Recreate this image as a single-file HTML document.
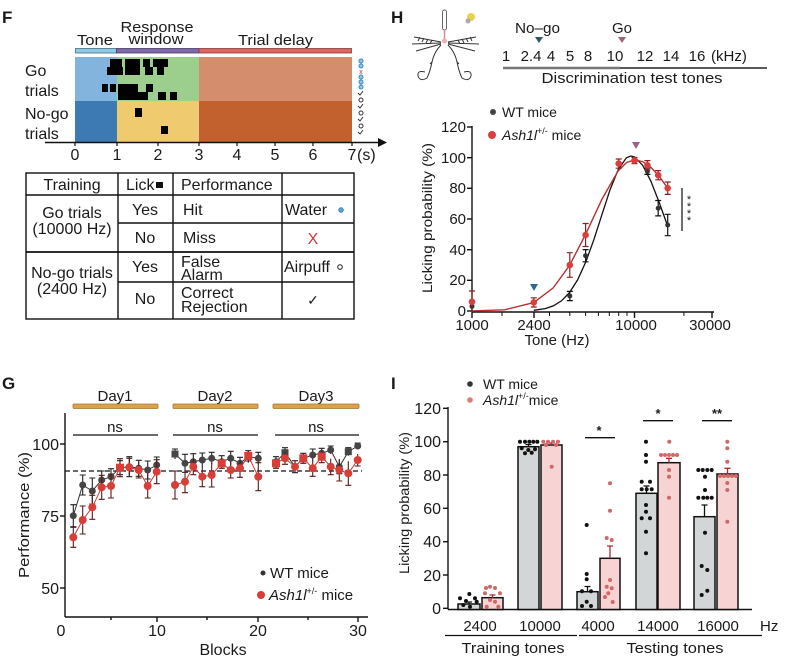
<!DOCTYPE html>
<html><head><meta charset="utf-8"><style>
html,body{margin:0;padding:0;background:#fff;}
svg{display:block;}
text{font-family:"Liberation Sans",Arial,sans-serif;fill:#1a1a1a;}
</style></head><body>
<svg width="792" height="671" viewBox="0 0 792 671" xmlns="http://www.w3.org/2000/svg">
<rect width="792" height="671" fill="#fff"/>

<!-- ===================== PANEL F ===================== -->
<text x="2" y="23" font-size="17" font-weight="bold">F</text>
<text x="77" y="45" font-size="15" textLength="36" lengthAdjust="spacingAndGlyphs">Tone</text>
<text x="157" y="32" font-size="15" text-anchor="middle" textLength="73" lengthAdjust="spacingAndGlyphs">Response</text>
<text x="156" y="44" font-size="15" text-anchor="middle" textLength="55" lengthAdjust="spacingAndGlyphs">window</text>
<text x="238" y="45" font-size="15" textLength="75" lengthAdjust="spacingAndGlyphs">Trial delay</text>
<rect x="75.5" y="48.5" width="41" height="4.5" fill="#8ccbe8" stroke="#4a6a80" stroke-width="0.8"/>
<rect x="116.5" y="48.5" width="82.5" height="4.5" fill="#7d6aa8" stroke="#4a3a6a" stroke-width="0.8"/>
<rect x="199" y="48.5" width="152.5" height="4.5" fill="#dc6660" stroke="#8a3a3a" stroke-width="0.8"/>

<rect x="75" y="57" width="42" height="44" fill="#82b4de"/>
<rect x="117" y="57" width="82" height="44" fill="#9ccf8e"/>
<rect x="199" y="57" width="153" height="44" fill="#d48e6d"/>
<rect x="75" y="101" width="42" height="41" fill="#3d7ab3"/>
<rect x="117" y="101" width="82" height="41" fill="#f0ca6e"/>
<rect x="199" y="101" width="153" height="41" fill="#c2612d"/>
<!-- licks -->
<g fill="#000">
<rect x="110" y="59" width="12" height="8"/><rect x="125" y="59" width="15" height="8"/><rect x="143" y="59" width="7" height="8"/><rect x="153" y="59" width="15" height="8"/>
<rect x="107" y="67" width="16" height="8"/><rect x="125" y="67" width="15" height="8"/><rect x="145" y="67" width="8" height="8"/><rect x="157" y="67" width="7" height="8"/>
<rect x="102" y="84" width="6" height="8"/><rect x="110" y="84" width="6" height="8"/><rect x="118" y="84" width="20" height="8"/><rect x="146" y="84" width="7" height="8"/>
<rect x="118" y="92" width="30" height="8"/><rect x="158" y="92" width="8" height="8"/><rect x="170" y="92" width="7" height="8"/>
<rect x="135" y="108" width="7" height="9"/><rect x="161" y="126" width="7" height="8"/>
</g>
<!-- right icons -->
<g stroke-width="1">
<circle cx="361" cy="61" r="2" fill="#8cc8ea" stroke="#3a8cc0"/>
<circle cx="361" cy="66" r="2" fill="#8cc8ea" stroke="#3a8cc0"/>
<text x="361" y="74" font-size="7" fill="#c03030" text-anchor="middle" style="fill:#c03030">x</text>
<circle cx="361" cy="77" r="2" fill="#8cc8ea" stroke="#3a8cc0"/>
<circle cx="361" cy="82" r="2" fill="#8cc8ea" stroke="#3a8cc0"/>
<circle cx="361" cy="87" r="2" fill="#8cc8ea" stroke="#3a8cc0"/>
<path d="M358 93 l2 2 l3 -4" fill="none" stroke="#333"/>
<circle cx="361" cy="100" r="2" fill="none" stroke="#333"/>
<path d="M358 106 l2 2 l3 -4" fill="none" stroke="#333"/>
<circle cx="361" cy="113" r="2" fill="none" stroke="#333"/>
<path d="M358 119 l2 2 l3 -4" fill="none" stroke="#333"/>
<circle cx="361" cy="126" r="2" fill="none" stroke="#333"/>
<path d="M358 132 l2 2 l3 -4" fill="none" stroke="#333"/>
</g>
<text x="25" y="76" font-size="16">Go</text>
<text x="25" y="96" font-size="16">trials</text>
<text x="25" y="119" font-size="16">No-go</text>
<text x="25" y="139" font-size="16">trials</text>
<line x1="45" y1="142.5" x2="380" y2="142.5" stroke="#111" stroke-width="1.5"/>
<polygon points="378,138 387,142.5 378,147" fill="#111"/>
<g stroke="#111" stroke-width="1.2">
<line x1="75" y1="142" x2="75" y2="146"/><line x1="117" y1="142" x2="117" y2="146"/><line x1="158" y1="142" x2="158" y2="146"/><line x1="199" y1="142" x2="199" y2="146"/><line x1="237" y1="142" x2="237" y2="146"/><line x1="275" y1="142" x2="275" y2="146"/><line x1="313" y1="142" x2="313" y2="146"/><line x1="352" y1="142" x2="352" y2="146"/>
</g>
<g font-size="16" text-anchor="middle">
<text x="75" y="160">0</text><text x="117" y="160">1</text><text x="158" y="160">2</text><text x="199" y="160">3</text><text x="237" y="160">4</text><text x="275" y="160">5</text><text x="313" y="160">6</text><text x="352" y="160">7</text>
</g>
<text x="357" y="160" font-size="16">(s)</text>

<!-- table -->
<g stroke="#111" stroke-width="1.4" fill="none">
<rect x="26" y="173" width="328" height="146"/>
<line x1="118" y1="173" x2="118" y2="319"/>
<line x1="173" y1="173" x2="173" y2="319"/>
<line x1="282" y1="173" x2="282" y2="319"/>
<line x1="26" y1="195" x2="354" y2="195"/>
<line x1="118" y1="223" x2="354" y2="223"/>
<line x1="26" y1="252" x2="354" y2="252" stroke-width="1.8"/>
<line x1="118" y1="282" x2="354" y2="282"/>
</g>
<g font-size="16">
<text x="72" y="190" text-anchor="middle">Training</text>
<text x="126" y="190">Lick</text>
<rect x="156" y="182" width="7" height="6" fill="#111"/>
<text x="181" y="190">Performance</text>
<text x="72" y="218" text-anchor="middle">Go trials</text>
<text x="72" y="234" text-anchor="middle">(10000 Hz)</text>
<text x="145" y="215" text-anchor="middle">Yes</text>
<text x="145" y="243" text-anchor="middle">No</text>
<text x="183" y="215">Hit</text>
<text x="183" y="243">Miss</text>
<text x="285" y="215">Water</text>
<circle cx="341" cy="210" r="2.3" fill="#5aa8d8" stroke="#2a78a8" stroke-width="0.8"/>
<text x="313" y="244" text-anchor="middle" style="fill:#c83a3a">X</text>
<text x="72" y="278" text-anchor="middle">No-go trials</text>
<text x="72" y="294" text-anchor="middle">(2400 Hz)</text>
<text x="145" y="272" text-anchor="middle">Yes</text>
<text x="145" y="304" text-anchor="middle">No</text>
<text x="181" y="267">False</text>
<text x="181" y="280">Alarm</text>
<text x="181" y="298">Correct</text>
<text x="181" y="312">Rejection</text>
<text x="284" y="272">Airpuff</text>
<circle cx="340" cy="267" r="2.3" fill="none" stroke="#222" stroke-width="1"/>
<text x="313" y="305" text-anchor="middle" font-size="14">✓</text>
</g>

<!-- ===================== PANEL H ===================== -->
<text x="391" y="23" font-size="17" font-weight="bold">H</text>
<!-- mouse sketch -->
<g fill="none" stroke="#333" stroke-width="1">
<rect x="442.5" y="10" width="4" height="20" rx="2" fill="#fff" stroke="#666"/>
<path d="M444.5 30 L444.5 40" stroke="#c89090" stroke-width="1.5"/>
<path d="M441 42 L414 37 M441 43 L412 44 M441 44 L416 51 M420 37 l-2 4 M424 38 l-2 4 M428 39 l-2 4 M432 40 l-2 4"/>
<path d="M448 42 L476 37 M448 43 L479 44 M448 44 L475 51 M470 37 l2 4 M466 38 l2 4 M462 39 l2 4 M458 40 l2 4"/>
<path d="M441 45 Q434 52 432 62 Q430 72 427 78 Q420 82 418 76 Q417 70 425 72"/>
<path d="M448 45 Q455 52 457 62 Q459 72 462 78 Q469 82 471 76 Q472 70 464 72"/>
<path d="M432 62 l-2 2 M457 62 l2 2"/>
</g>
<circle cx="444.5" cy="41" r="2.5" fill="#e8b0b0"/>
<circle cx="471" cy="17" r="4" fill="#e8d24a"/>
<circle cx="468" cy="21" r="2.5" fill="#aaa"/>

<text x="515" y="33" font-size="15" textLength="45" lengthAdjust="spacingAndGlyphs">No–go</text>
<text x="612" y="33" font-size="15">Go</text>
<polygon points="535,37 543,37 539,43" fill="#2f5866"/>
<polygon points="618,37 626,37 622,43" fill="#a0607a"/>
<g font-size="15" text-anchor="middle">
<text x="506" y="61">1</text><text x="531" y="61">2.4</text><text x="551" y="61">4</text><text x="570" y="61">5</text><text x="588" y="61">8</text><text x="615" y="61">10</text><text x="645" y="61">12</text><text x="671" y="61">14</text><text x="697" y="61">16</text>
</g>
<text x="711" y="61" font-size="15">(kHz)</text>
<line x1="503" y1="68" x2="620" y2="68" stroke="#777" stroke-width="2.5"/>
<line x1="620" y1="68" x2="767" y2="68" stroke="#222" stroke-width="1.4"/>
<text x="632" y="83" font-size="15" text-anchor="middle" textLength="181" lengthAdjust="spacingAndGlyphs">Discrimination test tones</text>

<!-- legend -->
<circle cx="493" cy="112" r="3" fill="#444"/>
<text x="502" y="117" font-size="14">WT mice</text>
<circle cx="492" cy="135" r="4" fill="#d84040"/>
<text x="502" y="140" font-size="14"><tspan font-style="italic">Ash1l</tspan><tspan font-size="9" dy="-6">+/-</tspan><tspan dy="6"> mice</tspan></text>

<!-- axes -->
<g stroke="#111" stroke-width="1.4">
<line x1="472" y1="126" x2="472" y2="312"/>
<line x1="472" y1="312" x2="714" y2="312"/>
<line x1="467" y1="127" x2="472" y2="127"/><line x1="467" y1="157.7" x2="472" y2="157.7"/><line x1="467" y1="188.3" x2="472" y2="188.3"/><line x1="467" y1="219" x2="472" y2="219"/><line x1="467" y1="249.7" x2="472" y2="249.7"/><line x1="467" y1="280.3" x2="472" y2="280.3"/><line x1="467" y1="311" x2="472" y2="311"/>
<line x1="472" y1="312" x2="472" y2="318"/><line x1="534" y1="312" x2="534" y2="318"/><line x1="634.5" y1="312" x2="634.5" y2="318"/><line x1="712" y1="312" x2="712" y2="318"/>
</g>
<g stroke="#111" stroke-width="1">
<line x1="502" y1="312" x2="502" y2="316"/><line x1="549.5" y1="312" x2="549.5" y2="316"/><line x1="569.8" y1="312" x2="569.8" y2="316"/><line x1="585.6" y1="312" x2="585.6" y2="316"/><line x1="598.4" y1="312" x2="598.4" y2="316"/><line x1="609.3" y1="312" x2="609.3" y2="316"/><line x1="618.7" y1="312" x2="618.7" y2="316"/><line x1="627" y1="312" x2="627" y2="316"/><line x1="683.9" y1="312" x2="683.9" y2="316"/>
</g>
<g font-size="15" text-anchor="end">
<text x="466" y="132">120</text><text x="466" y="163">100</text><text x="466" y="193">80</text><text x="466" y="224">60</text><text x="466" y="255">40</text><text x="466" y="285">20</text><text x="466" y="316">0</text>
</g>
<g font-size="15" text-anchor="middle">
<text x="472" y="330">1000</text><text x="534" y="330">2400</text><text x="636" y="330">10000</text><text x="710" y="330">30000</text>
</g>
<text x="557" y="345" font-size="15" text-anchor="middle">Tone (Hz)</text>
<text transform="translate(432,218) rotate(-90)" font-size="14" text-anchor="middle" textLength="150" lengthAdjust="spacingAndGlyphs">Licking probability (%)</text>

<!-- curves -->
<polyline fill="none" stroke="#111" stroke-width="1.3" points="533.8,310.3 545.1,308.6 553.3,305.9 561.4,300.9 569.5,292.6 577.6,279.9 585.75,262 593.9,239.6 602,214.4 610.1,189.6 618.25,169.5 626.4,157.8 630.9,156 634.5,156.9 642.6,165.2 650.75,180.9 658.9,201.6 667.7,226.1"/>
<polyline fill="none" stroke="#b83030" stroke-width="1.4" points="472,310.9 504.5,309.8 533.8,302.6 553.3,287.8 569.5,265.5 585.75,234.1 602,199.1 618.25,170.7 626.4,162.6 634.5,159.8 642.6,161.6 650.75,167.2 658.9,175.9 667.7,188.2"/>
<!-- WT errorbars + points -->
<g stroke="#111" stroke-width="1.2">
<path d="M569.8 291.4 V300.6 M566.8 291.4 h6 M566.8 300.6 h6"/>
<path d="M585.6 249.6 V261.8 M582.6 249.6 h6 M582.6 261.8 h6"/>
<path d="M647.4 168.2 V174.4 M644.4 168.2 h6 M644.4 174.4 h6"/>
<path d="M658.2 200.5 V215.9 M655.2 200.5 h6 M655.2 215.9 h6"/>
<path d="M667.7 214.3 V235.7 M664.7 214.3 h6 M664.7 235.7 h6"/>
</g>
<g fill="#333">
<circle cx="472" cy="306.4" r="2.5"/><circle cx="569.8" cy="296" r="2.5"/><circle cx="585.6" cy="255.7" r="2.5"/><circle cx="634.5" cy="160.6" r="2.5"/><circle cx="647.4" cy="171.3" r="2.5"/><circle cx="658.2" cy="208.2" r="2.5"/><circle cx="667.7" cy="225" r="2.5"/>
</g>
<!-- red errorbars + points -->
<g stroke="#8a2020" stroke-width="1.2">
<path d="M472 291 V312 M469 291 h6"/>
<path d="M533.8 297.8 V307 M530.8 297.8 h6 M530.8 307 h6"/>
<path d="M569.8 252.7 V277.3 M566.8 252.7 h6 M566.8 277.3 h6"/>
<path d="M585.6 223.5 V246.5 M582.6 223.5 h6 M582.6 246.5 h6"/>
<path d="M618.7 159 V168.2 M615.7 159 h6 M615.7 168.2 h6"/>
<path d="M634.5 157.5 V163.7 M631.5 157.5 h6 M631.5 163.7 h6"/>
<path d="M647.4 160.6 V169.8 M644.4 160.6 h6 M644.4 169.8 h6"/>
<path d="M658.2 170.6 V179.8 M655.2 170.6 h6 M655.2 179.8 h6"/>
<path d="M667.7 182 V194.4 M664.7 182 h6 M664.7 194.4 h6"/>
</g>
<g fill="#d84040">
<circle cx="472" cy="301.8" r="3.3"/><circle cx="533.8" cy="302.4" r="3.3"/><circle cx="569.8" cy="265" r="3.3"/><circle cx="585.6" cy="235" r="3.3"/><circle cx="618.7" cy="163.6" r="3.3"/><circle cx="634.5" cy="160.6" r="3.3"/><circle cx="647.4" cy="165.2" r="3.3"/><circle cx="658.2" cy="175.2" r="3.3"/><circle cx="667.7" cy="188.2" r="3.3"/>
</g>
<polygon points="530,284 538,284 534,291" fill="#2f6a8a"/>
<polygon points="632,142 640,142 636,149" fill="#9a6080"/>
<line x1="682" y1="188" x2="682" y2="231" stroke="#111" stroke-width="1.2"/>
<g font-size="11" text-anchor="middle"><text x="689" y="203">*</text><text x="689" y="210">*</text><text x="689" y="217">*</text><text x="689" y="224">*</text></g>

<!-- ===================== PANEL G ===================== -->
<text x="2" y="389" font-size="17" font-weight="bold">G</text>
<g font-size="15" text-anchor="middle">
<text x="115" y="401">Day1</text><text x="215" y="401">Day2</text><text x="316" y="401">Day3</text>
</g>
<g fill="#dba24e" stroke="#a8752e" stroke-width="0.8">
<rect x="73" y="404" width="85" height="4.5" rx="1"/><rect x="173" y="404" width="85" height="4.5" rx="1"/><rect x="273" y="404" width="86" height="4.5" rx="1"/>
</g>
<g stroke="#111" stroke-width="1.2">
<line x1="73" y1="435" x2="158" y2="435"/><line x1="173" y1="435" x2="258" y2="435"/><line x1="275" y1="435" x2="359" y2="435"/>
</g>
<g font-size="15" text-anchor="middle">
<text x="115" y="432">ns</text><text x="215" y="432">ns</text><text x="316" y="432">ns</text>
</g>
<g stroke="#111" stroke-width="1.4">
<line x1="65" y1="413" x2="65" y2="617"/>
<line x1="65" y1="617" x2="368" y2="617"/>
<line x1="60" y1="444" x2="65" y2="444"/><line x1="60" y1="516" x2="65" y2="516"/><line x1="60" y1="588" x2="65" y2="588"/>
<line x1="157" y1="617" x2="157" y2="622"/><line x1="258" y1="617" x2="258" y2="622"/><line x1="358" y1="617" x2="358" y2="622"/>
<line x1="111" y1="617" x2="111" y2="620"/><line x1="207" y1="617" x2="207" y2="620"/><line x1="308" y1="617" x2="308" y2="620"/>
</g>
<g font-size="16" text-anchor="end">
<text x="59" y="450">100</text><text x="59" y="522">75</text><text x="59" y="594">50</text>
</g>
<g font-size="16" text-anchor="middle">
<text x="61" y="636">0</text><text x="157" y="636">10</text><text x="258" y="636">20</text><text x="358" y="636">30</text>
</g>
<text x="223" y="655" font-size="16" text-anchor="middle">Blocks</text>
<text transform="translate(29,515) rotate(-90)" font-size="15" text-anchor="middle" textLength="126" lengthAdjust="spacingAndGlyphs">Performance (%)</text>
<line x1="65" y1="471" x2="362" y2="471" stroke="#111" stroke-width="1.3" stroke-dasharray="5,3"/>

<!-- WT series -->
<g fill="none" stroke="#333" stroke-width="1">
<polyline points="73.3,515.7 82.7,485 92.3,491 101.7,480 111,476.7 120,467.7 129.3,466.7 138.7,468.3 147.7,470 156.7,465"/>
<polyline points="175,454 185,463.3 193.3,461.7 202.3,460 211.7,458.3 221.7,461.7 230.7,458.3 240,463.3 248.3,456.7 258.3,458.3"/>
<polyline points="276,461.7 285,452.7 295,466.7 303.3,458.3 312.7,455 321.7,453.3 330.7,450 339.3,466.7 348.3,451.7 357.7,446"/>
</g>
<g stroke="#222" stroke-width="1.1" fill="none">
<path d="M73.3 504.7V526.7M70.3 504.7h6M70.3 526.7h6 M82.7 475V495M79.7 475h6M79.7 495h6 M92.3 478V504M89.3 478h6M89.3 504h6 M101.7 471V489M98.7 471h6 M111 468.7V484.7M108 468.7h6 M120 460.7V474.7M117 460.7h6M117 474.7h6 M129.3 456.7V476.7M126.3 456.7h6M126.3 476.7h6 M138.7 460.3V476.3M135.7 460.3h6M135.7 476.3h6 M147.7 461V479M144.7 461h6M144.7 479h6 M156.7 457V473M153.7 457h6"/>
<path d="M175 449V459M172 449h6 M185 454.3V472.3M182 454.3h6M182 472.3h6 M193.3 453.7V469.7M190.3 453.7h6 M202.3 453V467M199.3 453h6 M211.7 452.3V464.3M208.7 452.3h6 M221.7 455.7V467.7M218.7 455.7h6 M230.7 451.3V465.3M227.7 451.3h6 M240 457.3V469.3M237 457.3h6 M248.3 450.7V462.7M245.3 450.7h6 M258.3 452.3V464.3M255.3 452.3h6"/>
<path d="M276 456.7V466.7M273 456.7h6M273 466.7h6 M285 447.7V457.7M282 447.7h6 M295 460.7V472.7M292 472.7h6 M303.3 453.3V463.3M300.3 453.3h6 M312.7 449V461M309.7 449h6 M321.7 448.3V458.3M318.7 448.3h6 M330.7 446V454M327.7 446h6 M339.3 459.7V473.7M336.3 473.7h6 M348.3 447.7V455.7M345.3 447.7h6 M357.7 443V449M354.7 443h6"/>
</g>
<g fill="#454545">
<circle cx="73.3" cy="515.7" r="3.5"/><circle cx="82.7" cy="485" r="3.5"/><circle cx="92.3" cy="491" r="3.5"/><circle cx="101.7" cy="480" r="3.5"/><circle cx="111" cy="476.7" r="3.5"/><circle cx="120" cy="467.7" r="3.5"/><circle cx="129.3" cy="466.7" r="3.5"/><circle cx="138.7" cy="468.3" r="3.5"/><circle cx="147.7" cy="470" r="3.5"/><circle cx="156.7" cy="465" r="3.5"/>
<rect x="171.5" y="450.5" width="7" height="7"/><circle cx="185" cy="463.3" r="3.5"/><circle cx="193.3" cy="461.7" r="3.5"/><circle cx="202.3" cy="460" r="3.5"/><circle cx="211.7" cy="458.3" r="3.5"/><circle cx="221.7" cy="461.7" r="3.5"/><circle cx="230.7" cy="458.3" r="3.5"/><circle cx="240" cy="463.3" r="3.5"/><circle cx="248.3" cy="456.7" r="3.5"/><circle cx="258.3" cy="458.3" r="3.5"/>
<circle cx="276" cy="461.7" r="3.5"/><rect x="281.5" y="449.2" width="7" height="7"/><circle cx="295" cy="466.7" r="3.5"/><circle cx="303.3" cy="458.3" r="3.5"/><circle cx="312.7" cy="455" r="3.5"/><circle cx="321.7" cy="453.3" r="3.5"/><circle cx="330.7" cy="450" r="3.5"/><circle cx="339.3" cy="466.7" r="3.5"/><rect x="344.8" y="448.2" width="7" height="7"/><circle cx="357.7" cy="446" r="3.5"/>
</g>
<!-- Red series -->
<g fill="none" stroke="#c83a36" stroke-width="1">
<polyline points="73.3,537.3 82.7,520 92.3,507.3 101.7,487.3 111,486 120,467.7 129.3,467.3 138.7,470 147.7,486 156.7,471.7"/>
<polyline points="175,485 185,481.7 193.3,466.7 202.3,476.7 211.7,475 221.7,463.3 230.7,470 240,468.3 248.3,456 258.3,476.7"/>
<polyline points="276,463.3 285,458.3 295,466.7 303.3,458.3 312.7,468.3 321.7,456.7 330.7,466.7 339.3,470 348.3,473.3 357.7,460"/>
</g>
<g stroke="#5a1a1a" stroke-width="1.1" fill="none">
<path d="M73.3 527.3V547.3M70.3 527.3h6M70.3 547.3h6 M82.7 506V534M79.7 506h6M79.7 534h6 M92.3 495.3V519.3M89.3 519.3h6M89.3 495.3h6 M101.7 475.3V499.3M98.7 499.3h6M98.7 475.3h6 M111 474V498M108 498h6M108 474h6 M120 458.7V476.7M117 458.7h6M117 476.7h6 M129.3 458.3V476.3M126.3 458.3h6 M138.7 462V478M135.7 478h6 M147.7 474V498M144.7 498h6 M156.7 459.7V483.7M153.7 459.7h6M153.7 483.7h6"/>
<path d="M175 471V499M172 471h6M172 499h6 M185 470.7V492.7M182 492.7h6 M193.3 458.7V474.7M190.3 474.7h6 M202.3 466.7V486.7M199.3 486.7h6 M211.7 463V487M208.7 487h6 M221.7 458.3V468.3M218.7 468.3h6 M230.7 462V478M227.7 478h6 M240 459.3V477.3M237 477.3h6 M248.3 451V461M245.3 461h6 M258.3 462.7V490.7M255.3 490.7h6M255.3 462.7h6"/>
<path d="M276 458.3V468.3M273 468.3h6 M285 452.3V464.3M282 464.3h6 M295 460.7V472.7M292 460.7h6 M303.3 453.3V463.3M300.3 463.3h6 M312.7 460.3V476.3M309.7 476.3h6 M321.7 450.7V462.7M318.7 462.7h6 M330.7 458.7V474.7M327.7 474.7h6 M339.3 459V481M336.3 481h6 M348.3 461.3V485.3M345.3 485.3h6 M357.7 454V466M354.7 466h6"/>
</g>
<g fill="#d93d38">
<circle cx="73.3" cy="537.3" r="4"/><circle cx="82.7" cy="520" r="4"/><circle cx="92.3" cy="507.3" r="4"/><circle cx="101.7" cy="487.3" r="4"/><circle cx="111" cy="486" r="4"/><rect x="116" y="463.7" width="8" height="8"/><circle cx="129.3" cy="467.3" r="4"/><circle cx="138.7" cy="470" r="4"/><circle cx="147.7" cy="486" r="4"/><circle cx="156.7" cy="471.7" r="4"/>
<circle cx="175" cy="485" r="4"/><circle cx="185" cy="481.7" r="4"/><circle cx="193.3" cy="466.7" r="4"/><circle cx="202.3" cy="476.7" r="4"/><circle cx="211.7" cy="475" r="4"/><rect x="217.7" y="459.3" width="8" height="8"/><circle cx="230.7" cy="470" r="4"/><circle cx="240" cy="468.3" r="4"/><rect x="244.3" y="452" width="8" height="8"/><circle cx="258.3" cy="476.7" r="4"/>
<rect x="272" y="459.3" width="8" height="8"/><circle cx="285" cy="458.3" r="4"/><circle cx="295" cy="466.7" r="4"/><rect x="299.3" y="454.3" width="8" height="8"/><circle cx="312.7" cy="468.3" r="4"/><rect x="317.7" y="452.7" width="8" height="8"/><circle cx="330.7" cy="466.7" r="4"/><circle cx="339.3" cy="470" r="4"/><circle cx="348.3" cy="473.3" r="4"/><circle cx="357.7" cy="460" r="4"/>
</g>
<!-- legend G -->
<circle cx="263" cy="573" r="2.5" fill="#333"/>
<text x="270" y="578" font-size="15">WT mice</text>
<circle cx="261" cy="595" r="4" fill="#d93d38"/>
<text x="269" y="600" font-size="15"><tspan font-style="italic">Ash1l</tspan><tspan font-size="9" dy="-6">+/-</tspan><tspan dy="6"> mice</tspan></text>

<!-- ===================== PANEL I ===================== -->
<text x="391" y="389" font-size="17" font-weight="bold">I</text>
<circle cx="470" cy="384" r="2.8" fill="#333"/>
<text x="483" y="389" font-size="14">WT mice</text>
<circle cx="470" cy="400" r="2.8" fill="#e07a7a"/>
<text x="483" y="405" font-size="14"><tspan font-style="italic">Ash1l</tspan><tspan font-size="9" dy="-6">+/-</tspan><tspan dy="6">mice</tspan></text>

<g stroke="#111" stroke-width="1.4">
<line x1="448" y1="407" x2="448" y2="609.5"/>
<line x1="448" y1="609.5" x2="752" y2="609.5"/>
<line x1="443" y1="408.3" x2="448" y2="408.3"/><line x1="443" y1="441.7" x2="448" y2="441.7"/><line x1="443" y1="475" x2="448" y2="475"/><line x1="443" y1="508.3" x2="448" y2="508.3"/><line x1="443" y1="541.7" x2="448" y2="541.7"/><line x1="443" y1="575" x2="448" y2="575"/><line x1="443" y1="608.3" x2="448" y2="608.3"/>
</g>
<g font-size="16" text-anchor="end">
<text x="441" y="414">120</text><text x="441" y="447">100</text><text x="441" y="481">80</text><text x="441" y="514">60</text><text x="441" y="547">40</text><text x="441" y="581">20</text><text x="441" y="614">0</text>
</g>
<text transform="translate(409,503) rotate(-90)" font-size="14" text-anchor="middle" textLength="142" lengthAdjust="spacingAndGlyphs">Licking probability (%)</text>

<!-- bars -->
<g stroke="#111" stroke-width="1.5">
<rect x="458" y="604" width="22" height="5.5" fill="#d3d6d6"/>
<rect x="482" y="597.7" width="21" height="11.8" fill="#f8d3d3"/>
<rect x="518" y="446.7" width="21" height="162.8" fill="#d3d6d6"/>
<rect x="541" y="445" width="21" height="164.5" fill="#f8d3d3"/>
<rect x="577" y="591.7" width="21" height="17.8" fill="#d3d6d6"/>
<rect x="600" y="558.3" width="20" height="51.2" fill="#f8d3d3"/>
<rect x="636" y="493.3" width="21" height="116.2" fill="#d3d6d6"/>
<rect x="658" y="462.7" width="22" height="146.8" fill="#f8d3d3"/>
<rect x="694" y="516.7" width="21" height="92.8" fill="#d3d6d6"/>
<rect x="717" y="474" width="21" height="135.5" fill="#f8d3d3"/>
</g>
<!-- error bars -->
<g stroke="#111" stroke-width="1.3">
<path d="M469 602 V604 M466 602 h6"/>
<path d="M528.5 444.5 V446.7 M525.5 444.5 h6"/>
<path d="M587.5 586.5 V591.7 M584.5 586.5 h6"/>
<path d="M646.5 486 V493.3 M643.5 486 h6"/>
<path d="M704.5 505 V516.7 M701.5 505 h6"/>
</g>
<g stroke="#b02828" stroke-width="1.3">
<path d="M492.5 595 V597.7 M489.5 595 h6"/>
<path d="M551.5 443 V445 M548.5 443 h6"/>
<path d="M610 546 V558.3 M607 546 h6"/>
<path d="M669 458.3 V462.7 M666 458.3 h6"/>
<path d="M727.5 468.3 V474 M724.5 468.3 h6"/>
</g>
<!-- dots -->
<g fill="#111">
<circle cx="460" cy="598.3" r="2"/><circle cx="469.3" cy="594" r="2"/><circle cx="475" cy="598.3" r="2"/><circle cx="463.3" cy="605" r="2"/><circle cx="470" cy="606.7" r="2"/><circle cx="476.7" cy="601.7" r="2"/><circle cx="466" cy="601" r="2"/>
<circle cx="520" cy="441.7" r="2"/><circle cx="525" cy="441.7" r="2"/><circle cx="529.3" cy="441.7" r="2"/><circle cx="533.3" cy="441.7" r="2"/><circle cx="537.3" cy="441.7" r="2"/><circle cx="521.7" cy="448.3" r="2"/><circle cx="528.3" cy="450" r="2"/><circle cx="535" cy="449.3" r="2"/><circle cx="525" cy="453.3" r="2"/><circle cx="531.7" cy="452.7" r="2"/>
<circle cx="586.7" cy="525" r="2"/><circle cx="586.7" cy="574" r="2"/><circle cx="586.7" cy="579.3" r="2"/><circle cx="582" cy="591.3" r="2"/><circle cx="591" cy="591.3" r="2"/><circle cx="586.7" cy="601.7" r="2"/><circle cx="582" cy="606" r="2"/><circle cx="591" cy="606" r="2"/>
<circle cx="646" cy="441.7" r="2"/><circle cx="646" cy="455" r="2"/><circle cx="646" cy="461.7" r="2"/><circle cx="641.7" cy="481.7" r="2"/><circle cx="650" cy="481.7" r="2"/><circle cx="641.7" cy="489.3" r="2"/><circle cx="646.7" cy="489.3" r="2"/><circle cx="651.7" cy="489.3" r="2"/><circle cx="646" cy="505" r="2"/><circle cx="646" cy="511.7" r="2"/><circle cx="641.7" cy="518.3" r="2"/><circle cx="650" cy="518.3" r="2"/><circle cx="646" cy="531.7" r="2"/><circle cx="646" cy="553.3" r="2"/>
<circle cx="698.3" cy="470" r="2"/><circle cx="702.7" cy="470" r="2"/><circle cx="707.3" cy="470" r="2"/><circle cx="711.7" cy="470" r="2"/><circle cx="705" cy="476.7" r="2"/><circle cx="705" cy="490" r="2"/><circle cx="698.3" cy="497.7" r="2"/><circle cx="703.3" cy="497.7" r="2"/><circle cx="707.3" cy="497.7" r="2"/><circle cx="711.7" cy="497.7" r="2"/><circle cx="705" cy="532.7" r="2"/><circle cx="701.7" cy="566" r="2"/><circle cx="707.3" cy="570" r="2"/><circle cx="701.7" cy="595" r="2"/><circle cx="707.3" cy="590.7" r="2"/>
</g>
<g fill="#d06868">
<circle cx="486" cy="588" r="2"/><circle cx="490" cy="586.7" r="2"/><circle cx="495" cy="588" r="2"/><circle cx="485" cy="593.3" r="2"/><circle cx="500" cy="593.3" r="2"/><circle cx="490" cy="600" r="2"/><circle cx="495" cy="601.7" r="2"/><circle cx="486.7" cy="606.7" r="2"/><circle cx="498.3" cy="606.7" r="2"/>
<circle cx="543.3" cy="441.7" r="2"/><circle cx="548" cy="441.7" r="2"/><circle cx="553" cy="441.7" r="2"/><circle cx="558" cy="441.7" r="2"/><circle cx="546" cy="445" r="2"/><circle cx="556" cy="445" r="2"/><circle cx="551.7" cy="466.7" r="2"/>
<circle cx="610" cy="483.3" r="2"/><circle cx="610" cy="510.7" r="2"/><circle cx="606.7" cy="538" r="2"/><circle cx="611.7" cy="540" r="2"/><circle cx="610" cy="580" r="2"/><circle cx="606.7" cy="586.7" r="2"/><circle cx="611.7" cy="588.3" r="2"/><circle cx="608.3" cy="593.3" r="2"/><circle cx="605" cy="597" r="2"/><circle cx="612.7" cy="602" r="2"/>
<circle cx="669.3" cy="441.7" r="2"/><circle cx="661" cy="455" r="2"/><circle cx="665" cy="455" r="2"/><circle cx="669" cy="455" r="2"/><circle cx="673" cy="455" r="2"/><circle cx="677" cy="455" r="2"/><circle cx="669" cy="470" r="2"/><circle cx="669" cy="476.7" r="2"/><circle cx="669" cy="497.7" r="2"/>
<circle cx="727.3" cy="441.7" r="2"/><circle cx="727.3" cy="448.3" r="2"/><circle cx="727.3" cy="461.7" r="2"/><circle cx="720" cy="476" r="2"/><circle cx="724" cy="476" r="2"/><circle cx="728" cy="476" r="2"/><circle cx="732" cy="476" r="2"/><circle cx="736" cy="476" r="2"/><circle cx="727.3" cy="483" r="2"/><circle cx="727.3" cy="490" r="2"/><circle cx="727.3" cy="521.7" r="2"/>
</g>
<!-- significance -->
<g stroke="#111" stroke-width="1.3">
<line x1="585" y1="437.7" x2="615" y2="437.7"/>
<line x1="643" y1="420.7" x2="673" y2="420.7"/>
<line x1="702" y1="420.7" x2="732" y2="420.7"/>
</g>
<g font-size="13" text-anchor="middle" font-weight="bold">
<text x="599" y="435">*</text><text x="658" y="418">*</text><text x="717" y="418">**</text>
</g>
<!-- x labels -->
<g font-size="15" text-anchor="middle">
<text x="480" y="631">2400</text><text x="540" y="631">10000</text><text x="598" y="631">4000</text><text x="658" y="631">14000</text><text x="718" y="631">16000</text>
</g>
<text x="760" y="631" font-size="15">Hz</text>
<line x1="445" y1="635.5" x2="577" y2="635.5" stroke="#111" stroke-width="1.2"/>
<line x1="579" y1="635.5" x2="762" y2="635.5" stroke="#111" stroke-width="1.2"/>
<text x="513" y="653" font-size="15" text-anchor="middle" textLength="103" lengthAdjust="spacingAndGlyphs">Training tones</text>
<text x="675" y="653" font-size="15" text-anchor="middle" textLength="97" lengthAdjust="spacingAndGlyphs">Testing tones</text>
</svg>
</body></html>
